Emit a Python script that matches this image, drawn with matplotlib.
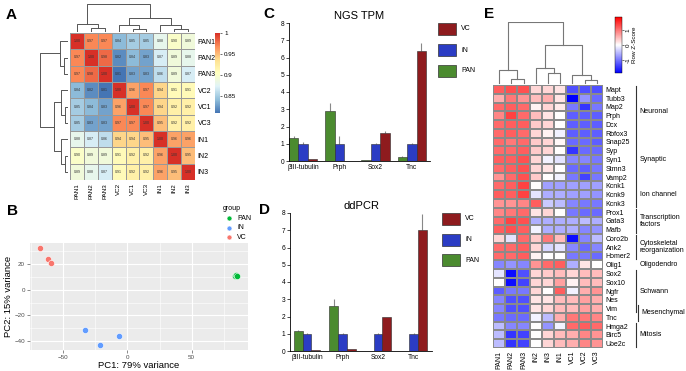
import numpy as np
import matplotlib.pyplot as plt
from matplotlib.colors import LinearSegmentedColormap
from matplotlib.patches import Rectangle
import matplotlib.transforms as mtrans

plt.rcParams['font.family'] = ['Liberation Sans', 'DejaVu Sans']

# ---------------- data ----------------
# A: sample correlation matrix
samples_A = ["PAN1", "PAN2", "PAN3", "VC2", "VC1", "VC3", "IN1", "IN2", "IN3"]
corr_pan = [[1.00, 0.97, 0.97, 0.84, 0.85, 0.85, 0.88, 0.90, 0.89],
            [0.97, 1.00, 0.98, 0.82, 0.84, 0.83, 0.87, 0.89, 0.88],
            [0.97, 0.98, 1.00, 0.81, 0.83, 0.83, 0.86, 0.89, 0.87]]
corr_vc = [[0.84, 0.82, 0.81, 1.00, 0.96, 0.97, 0.94, 0.91, 0.91],
           [0.85, 0.84, 0.83, 0.96, 1.00, 0.97, 0.94, 0.92, 0.92],
           [0.85, 0.83, 0.83, 0.97, 0.97, 1.00, 0.95, 0.92, 0.92]]
corr_in = [[0.88, 0.87, 0.86, 0.94, 0.94, 0.95, 1.00, 0.96, 0.96],
           [0.90, 0.89, 0.89, 0.91, 0.92, 0.92, 0.96, 1.00, 0.95],
           [0.89, 0.88, 0.87, 0.91, 0.92, 0.92, 0.96, 0.95, 1.00]]
treeA = (("PAN1", ("PAN2", "PAN3", 4.0), 8.3),
         (("VC2", ("VC1", "VC3", 3.5), 7.0), ("IN1", ("IN2", "IN3", 3.5), 7.0), 14.0), 28.0)

# B: PCA
pca_groups = ["PAN", "iN", "VC"]
pca_colors = ["#00BA38", "#619CFF", "#F8766D"]
pc1_pan = [83.5, 84.5, 85.5]
pc2_pan = [11.0, 11.2, 11.0]
pc1_in = [-33.1, -21.1, -6.6]
pc2_in = [-31.1, -42.9, -36.0]
pc1_vc = [-68.3, -61.7, -59.9]
pc2_vc = [32.5, 24.1, 20.5]

# C / D: bars
genes = ["βIII-tubulin", "Prph", "Sox2", "Tnc"]
bar_groups = ["PAN", "iN", "VC"]
bar_colors = ["#4B8B2F", "#2B3CC4", "#8E1B1E"]
ngs_pan = [1.35, 2.9, 0.03, 0.25]
ngs_in = [1.0, 1.0, 1.0, 1.0]
ngs_vc = [0.1, 0.02, 1.62, 6.4]
ngs_pan_err = [0.12, 0.45, 0.0, 0.03]
ngs_in_err = [0.08, 0.45, 0.05, 0.03]
ngs_vc_err = [0.02, 0.0, 0.12, 0.45]
pcr_pan = [1.18, 2.6, 0.02, 0.0]
pcr_in = [1.0, 1.0, 1.0, 1.0]
pcr_vc = [0.07, 0.12, 1.95, 7.0]
pcr_pan_err = [0.03, 0.4, 0.0, 0.0]
pcr_in_err = [0.02, 0.02, 0.02, 0.07]
pcr_vc_err = [0.0, 0.02, 0.03, 0.95]

# E: z-score heatmap
samples_E = ["PAN1", "PAN2", "PAN3", "iN2", "iN3", "iN1", "VC1", "VC2", "VC3"]
genes_E = ["Mapt", "Tubb3", "Map2", "Prph", "Dcx", "Rbfox3", "Snap25", "Syp", "Syn1",
           "Stmn3", "Vamp2", "Kcnk1", "Kcnk9", "Kcnk3", "Prox1", "Gata3", "Mafb", "Coro2b",
           "Ank2", "Homer2", "Olig1", "Sox2", "Sox10", "Ngfr", "Nes", "Vim", "Tnc",
           "Hmga2", "Birc5", "Ube2c"]
z_neuronal = [[1.2, 1.3, 1.3, 0.3, 0.3, 0.2, -1.3, -1.3, -1.3],
              [0.6, 1.0, 0.8, 0.5, 0.6, 0.2, -1.9, -0.8, -1.1],
              [1.1, 1.2, 1.1, 0.1, 0.3, 0.15, -1.0, -1.5, -1.0],
              [0.9, 1.4, 1.1, 0.5, 0.2, 0.0, -1.2, -1.2, -1.2],
              [1.1, 1.2, 1.2, 0.4, 0.3, 0.0, -1.2, -1.2, -1.2],
              [1.1, 1.2, 1.1, 0.3, 0.1, -0.1, -1.2, -1.2, -1.2]]
z_synaptic = [[1.1, 1.0, 1.1, 0.4, 0.3, 0.05, -1.1, -1.1, -1.2],
              [1.1, 1.1, 1.2, 0.4, 0.3, 0.0, -1.5, -1.1, -1.1],
              [1.2, 1.2, 1.3, 0.3, -0.1, -0.2, -0.9, -0.9, -1.0],
              [1.1, 1.2, 1.3, 0.3, 0.2, 0.0, -1.1, -1.2, -1.0],
              [0.8, 1.1, 1.3, 0.4, 0.0, -0.1, -1.0, -1.4, -1.0]]
z_ion = [[1.1, 1.2, 1.4, 0.0, -0.7, -0.7, -0.7, -0.7, -0.7],
         [1.2, 1.2, 1.4, -0.2, -0.6, -0.6, -0.7, -0.7, -0.8],
         [0.8, 0.8, 0.9, 1.2, -0.4, -0.5, -0.9, -1.0, -1.0]]
z_tf = [[0.9, 1.0, 1.1, 0.2, 0.3, 0.0, -1.0, -1.1, -1.1],
        [1.1, 1.4, 1.3, -0.6, -0.6, -0.6, -0.6, -0.5, -0.6],
        [1.2, 1.3, 1.2, -0.1, -0.6, -0.6, -0.6, -0.9, -0.8]]
z_cyto = [[0.3, -0.2, 1.1, 0.4, 1.0, 0.5, -1.8, -0.9, -0.5],
          [1.1, 1.1, 1.2, 0.3, -0.3, -0.2, -0.9, -1.1, -0.9],
          [1.1, 1.1, 1.2, 0.1, 0.0, 0.0, -1.0, -1.0, -1.1]]
z_olig = [[-0.9, -0.8, -0.9, 0.8, 1.1, 1.2, -0.6, 0.2, 0.0]]
z_glial = [[-0.2, -1.8, -1.3, 0.3, 0.4, 0.5, 0.3, 0.5, 0.5],
           [0.0, -1.8, -1.4, 0.3, 0.3, 0.7, 0.1, 0.5, 0.5],
           [-1.2, -1.0, -1.0, 0.3, 0.0, 1.2, -0.1, 0.6, 0.8],
           [-0.9, -1.3, -1.3, 0.2, 0.2, 0.5, 0.5, 0.7, 0.6],
           [-0.9, -1.3, -1.3, 0.2, 0.3, 0.5, 0.5, 0.7, 0.6],
           [-1.0, -1.1, -1.1, -0.1, -0.5, 0.6, 1.0, 1.0, 0.9]]
z_mitosis = [[-0.5, -0.9, -0.9, 0.0, -0.8, -0.1, 1.1, 1.2, 1.1],
             [-0.5, -1.5, -1.4, 0.0, 0.3, 0.5, 0.6, 0.9, 0.8],
             [-0.5, -1.5, -1.4, 0.0, 0.3, 0.5, 0.6, 0.9, 0.8]]
gene_groups = [("Neuronal", 0, 5), ("Synaptic", 6, 10), ("Ion channel", 11, 13),
               ("Transcription\nfactors", 14, 16), ("Cytoskeletal\nreorganization", 17, 19),
               ("Oligodendro", 20, 20), ("Schwann", 21, 25), ("Mesenchymal", 25, 26),
               ("Mitosis", 27, 29)]
treeE = (("PAN1", ("PAN2", "PAN3", 4.0), 13.0),
         (("iN2", ("iN3", "iN1", 10.0), 15.0), ("VC1", ("VC2", "VC3", 3.0), 8.0), 38.0), 61.0)

# ---------------- figure ----------------
W, H = 686, 371
fig = plt.figure(figsize=(W / 100, H / 100), dpi=100)


def px_axes(x0, y0, x1, y1):
    return fig.add_axes([x0 / W, 1 - y1 / H, (x1 - x0) / W, (y1 - y0) / H])


def draw_tree(ax, node, pos, horizontal=False, **kw):
    if isinstance(node, str):
        return pos[node], 0.0
    a, b, h = node
    xa, ha = draw_tree(ax, a, pos, horizontal, **kw)
    xb, hb = draw_tree(ax, b, pos, horizontal, **kw)
    xs, ys = [xa, xa, xb, xb], [ha, h, h, hb]
    if horizontal:
        ax.plot(ys, xs, **kw)
    else:
        ax.plot(xs, ys, **kw)
    return (xa + xb) / 2, h


# ---- A ----
corrA = np.array(corr_pan + corr_vc + corr_in)
cmapA = LinearSegmentedColormap.from_list(
    'rdylbu', ['#4575B4', '#91BFDB', '#E0F3F8', '#FFFFBF', '#FEE090', '#FC8D59', '#D73027'])
axA = px_axes(70, 33, 195, 180)
meshA = axA.pcolormesh(corrA, cmap=cmapA, vmin=0.81, vmax=1.0, edgecolors='#999999', linewidth=0.5)
axA.set_ylim(9, 0)
for i in range(9):
    for j in range(9):
        axA.text(j + 0.5, i + 0.5, "%.2f" % corrA[i, j], ha='center', va='center',
                 fontsize=2.6, color='#333333')
axA.set_xticks(np.arange(9) + 0.5)
axA.set_xticklabels(samples_A, rotation=90, fontsize=4.5)
axA.set_yticks(np.arange(9) + 0.5)
axA.set_yticklabels(samples_A, fontsize=5)
axA.yaxis.tick_right()
axA.tick_params(length=0, pad=2)
for s in axA.spines.values():
    s.set_visible(False)

posA = {n: i + 0.5 for i, n in enumerate(samples_A)}
axAt = px_axes(70, 4, 195, 32)
draw_tree(axAt, treeA, posA, color='#555555', lw=0.7)
axAt.set_xlim(0, 9)
axAt.set_ylim(0, 28.5)
axAt.axis('off')
axAl = px_axes(40, 33, 68, 180)
draw_tree(axAl, treeA, posA, horizontal=True, color='#555555', lw=0.7)
axAl.set_ylim(9, 0)
axAl.set_xlim(28.5, 0)
axAl.axis('off')

caxA = px_axes(215, 33, 220, 113)
cbA = fig.colorbar(meshA, cax=caxA, ticks=[0.85, 0.9, 0.95, 1.0])
cbA.ax.set_yticklabels(["0.85", "0.9", "0.95", "1"])
cbA.ax.tick_params(labelsize=4.5, length=1.5, width=0.4, pad=1.5)
cbA.outline.set_visible(False)

# ---- B ----
axB = px_axes(30, 243, 248, 350)
axB.set_facecolor('#EBEBEB')
axB.scatter(pc1_pan, pc2_pan, s=20, c=pca_colors[0], edgecolors='white', linewidths=0.4,
            label=pca_groups[0], zorder=3)
axB.scatter(pc1_in, pc2_in, s=20, c=pca_colors[1], edgecolors='white', linewidths=0.4,
            label=pca_groups[1], zorder=3)
axB.scatter(pc1_vc, pc2_vc, s=20, c=pca_colors[2], edgecolors='white', linewidths=0.4,
            label=pca_groups[2], zorder=3)
axB.set_xlim(-76, 94)
axB.set_ylim(-46.8, 36.3)
axB.set_xticks([-50, 0, 50])
axB.set_yticks([-40, -20, 0, 20])
axB.set_xticks([-75, -25, 25, 75], minor=True)
axB.set_yticks([-30, -10, 10, 30], minor=True)
axB.grid(which='major', color='white', lw=0.8)
axB.grid(which='minor', color='white', lw=0.4)
axB.set_axisbelow(True)
for s in axB.spines.values():
    s.set_visible(False)
axB.tick_params(labelsize=4.5, labelcolor='#4D4D4D', length=2, width=0.4, color='#333333', pad=1.5)
axB.tick_params(which='minor', length=0)
axB.set_xlabel("PC1: 79% variance", fontsize=6.8, labelpad=1)
axB.set_ylabel("PC2: 15% variance", fontsize=6.8, labelpad=1)
axB.legend(title='group', loc='upper left', bbox_to_anchor=(219 / W, 1 - 202 / H),
           bbox_transform=fig.transFigure, frameon=False, fontsize=5, title_fontsize=5,
           handletextpad=0.1, labelspacing=0.35, borderpad=0, alignment='left',
           markerscale=0.8)


# ---- C / D ----
def bar_panel(box, pan, iN, vc, errs, title, width, xlim):
    ax = px_axes(*box)
    x = np.arange(len(genes))
    for k, (vals, err) in enumerate(zip([pan, iN, vc], errs)):
        ax.bar(x + (k - 1) * width, vals, width, color=bar_colors[k], edgecolor='#2a2a2a',
               linewidth=0.4, zorder=2)
        ax.errorbar(x + (k - 1) * width, vals, yerr=[np.zeros(len(err)), err], fmt='none',
                    ecolor='#888888', elinewidth=0.8, capsize=0, zorder=1)
    ax.set_xlim(*xlim)
    ax.set_ylim(0, 8)
    ax.set_yticks(range(9))
    ax.set_xticks(x)
    ax.set_xticklabels(genes, fontsize=4.8)
    ax.tick_params(axis='y', labelsize=4.8, length=2, width=0.5, pad=1.5)
    ax.tick_params(axis='x', length=0, pad=2)
    ax.spines['top'].set_visible(False)
    ax.spines['right'].set_visible(False)
    for s in ('left', 'bottom'):
        ax.spines[s].set_linewidth(0.6)
    ax.set_title(title, fontsize=8, pad=3)
    return ax


bar_panel((289, 23, 430, 161), ngs_pan, ngs_in, ngs_vc,
          [ngs_pan_err, ngs_in_err, ngs_vc_err], "NGS TPM", 0.26, (-0.385, 3.5))
bar_panel((290, 213, 432, 351), pcr_pan, pcr_in, pcr_vc,
          [pcr_pan_err, pcr_in_err, pcr_vc_err], "ddPCR", 0.25, (-0.48, 3.52))

# overlay in pixel coordinates for legends / letters
ov = fig.add_axes([0, 0, 1, 1], zorder=10)
ov.set_xlim(0, W)
ov.set_ylim(H, 0)
ov.axis('off')
ov.patch.set_visible(False)

legend_order = [2, 1, 0]
for x0, y0, step in [(438, 23, 21), (442, 213, 20.5)]:
    for r, k in enumerate(legend_order):
        ov.add_patch(Rectangle((x0, y0 + r * step), 18, 12, facecolor=bar_colors[k],
                               edgecolor='#333333', lw=0.5))
        ov.text(x0 + 23, y0 + r * step + 6, bar_groups[k], fontsize=5, va='center')

for letter, lx, ly in [("A", 11, 15), ("B", 12, 211), ("C", 269, 14), ("D", 265, 210), ("E", 489, 14)]:
    ov.text(lx, ly, letter, fontsize=11, fontweight='bold', ha='center', va='center')

# ---- E ----
zE = np.array(z_neuronal + z_synaptic + z_ion + z_tf + z_cyto + z_olig + z_glial + z_mitosis)
cmapE = LinearSegmentedColormap.from_list('bwr2', ['#0000FF', '#FFFFFF', '#FF0000'])
axE = px_axes(493, 85, 603, 348)
meshE = axE.pcolormesh(zE, cmap=cmapE, vmin=-1.9, vmax=1.9, edgecolors='#8a8a8a', linewidth=0.3)
axE.set_ylim(len(genes_E), 0)
axE.set_xticks(np.arange(9) + 0.5)
axE.set_xticklabels(samples_E, rotation=90, fontsize=5)
axE.set_yticks(np.arange(len(genes_E)) + 0.5)
axE.set_yticklabels(genes_E, fontsize=5)
axE.yaxis.tick_right()
axE.tick_params(length=0, pad=2)
for s in axE.spines.values():
    s.set_visible(False)

trE = mtrans.blended_transform_factory(axE.transAxes, axE.transData)
for name, r0, r1 in gene_groups:
    lx = 1.30 if name != "Mesenchymal" else 1.32
    if r1 > r0:
        axE.plot([lx, lx], [r0 + 0.1, r1 + 0.9], color='#333333', lw=0.8,
                 transform=trE, clip_on=False)
    axE.text(1.335 if name != "Mesenchymal" else 1.35, (r0 + r1 + 1) / 2, name,
             transform=trE, fontsize=5, va='center', ha='left', linespacing=1.0)

posE = {n: i + 0.5 for i, n in enumerate(samples_E)}
axEt = px_axes(493, 22, 603, 85)
draw_tree(axEt, treeE, posE, color='#777777', lw=0.8)
axEt.set_xlim(0, 9)
axEt.set_ylim(-2, 61.5)
axEt.axis('off')

caxE = px_axes(615, 17, 622, 73)
cbE = fig.colorbar(meshE, cax=caxE, ticks=[-1, 0, 1])
cbE.ax.set_yticklabels(["-1", "0", "1"], rotation=90, va='center')
cbE.ax.tick_params(labelsize=4.5, length=1.5, width=0.4, pad=1)
cbE.outline.set_linewidth(0.3)
cbE.set_label("Row Z-Score", fontsize=4.5, labelpad=1)

fig.savefig("out.png", dpi=100)
